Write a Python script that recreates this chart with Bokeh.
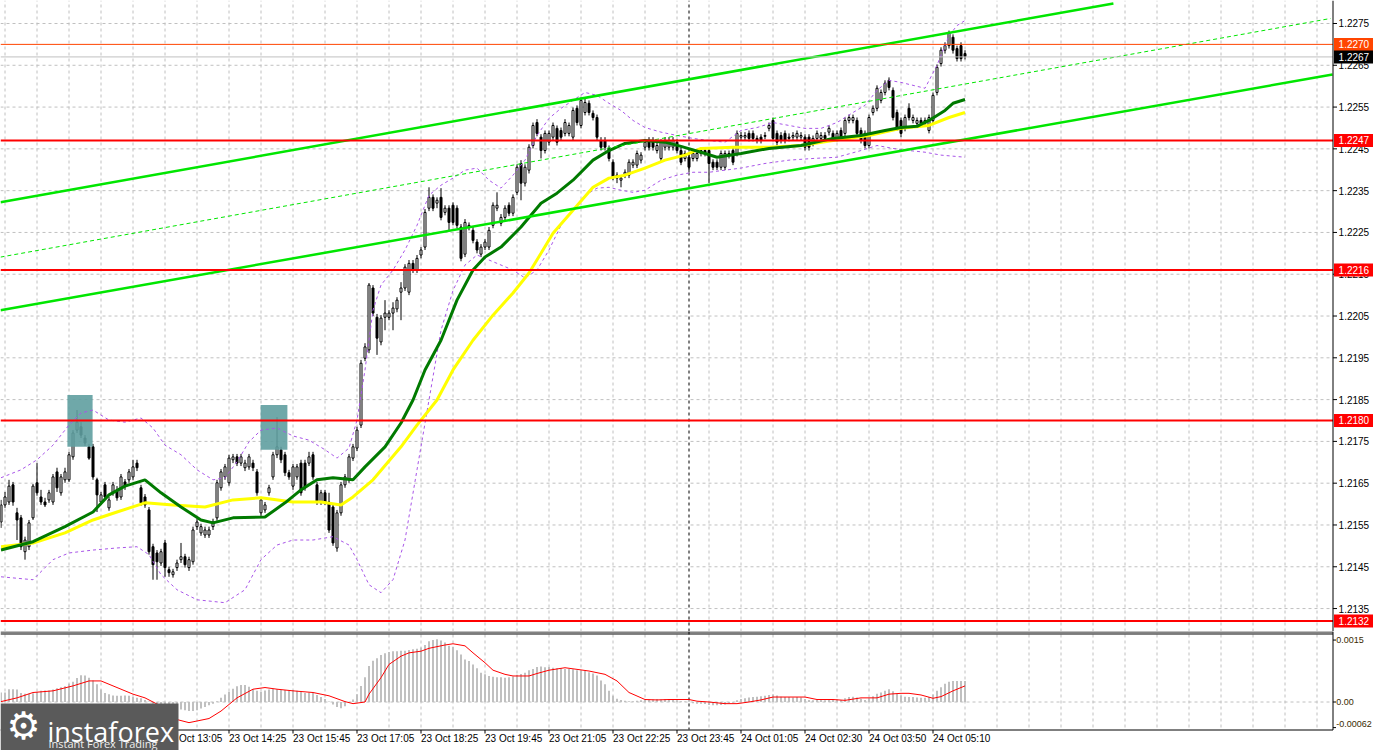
from bokeh.plotting import figure
from bokeh.layouts import column
from bokeh.models import ColumnDataSource, Range1d
from bokeh.core.properties import value
from bokeh.embed import file_html
from bokeh.resources import INLINE

# ---------------------------------------------------------------- data
BARS = list(range(-1, 241))   # M5 bar index, 23 Oct 09:35 .. 24 Oct 05:50

OPEN = [
    1.21557, 1.21598, 1.21605, 1.21646, 1.21579, 1.21567, 1.21486, 1.21498, 1.21567, 1.21651,
    1.21617, 1.21605, 1.21610, 1.21605, 1.21677, 1.21627, 1.21658, 1.21658, 1.21713, 1.21777,
    1.21785, 1.21758, 1.21737, 1.21737, 1.21658, 1.21605, 1.21646, 1.21591, 1.21627, 1.21634,
    1.21617, 1.21653, 1.21658, 1.21665, 1.21698, 1.21639, 1.21617, 1.21586, 1.21498, 1.21483,
    1.21459, 1.21507, 1.21443, 1.21431, 1.21448, 1.21467, 1.21474, 1.21448, 1.21462, 1.21546,
    1.21531, 1.21526, 1.21526, 1.21546, 1.21567, 1.21639, 1.21665, 1.21651, 1.21706, 1.21713,
    1.21698, 1.21687, 1.21689, 1.21698, 1.21677, 1.21579, 1.21586, 1.21627, 1.21665, 1.21718,
    1.21730, 1.21718, 1.21675, 1.21643, 1.21665, 1.21698, 1.21698, 1.21698, 1.21718, 1.21646,
    1.21605, 1.21627, 1.21605, 1.21593, 1.21495, 1.21579, 1.21646, 1.21658, 1.21710, 1.21734,
    1.21789, 1.21949, 1.21969, 1.22117, 1.22047, 1.21988, 1.22047, 1.22047, 1.22057, 1.22067,
    1.22107, 1.22117, 1.22107, 1.22176, 1.22160, 1.22196, 1.22215, 1.22308, 1.22334, 1.22320,
    1.22334, 1.22298, 1.22308, 1.22315, 1.22308, 1.22263, 1.22198, 1.22267, 1.22255, 1.22227,
    1.22198, 1.22215, 1.22215, 1.22267, 1.22308, 1.22272, 1.22286, 1.22315, 1.22296, 1.22346,
    1.22415, 1.22368, 1.22399, 1.22458, 1.22513, 1.22478, 1.22446, 1.22466, 1.22478, 1.22499,
    1.22494, 1.22487, 1.22487, 1.22478, 1.22547, 1.22506, 1.22537, 1.22559, 1.22535, 1.22525,
    1.22470, 1.22470, 1.22451, 1.22418, 1.22387, 1.22375, 1.22387, 1.22387, 1.22411, 1.22411,
    1.22423, 1.22454, 1.22470, 1.22470, 1.22446, 1.22427, 1.22454, 1.22454, 1.22454, 1.22466,
    1.22446, 1.22427, 1.22430, 1.22427, 1.22427, 1.22439, 1.22446, 1.22446, 1.22418, 1.22418,
    1.22406, 1.22406, 1.22435, 1.22446, 1.22439, 1.22478, 1.22478, 1.22487, 1.22487, 1.22475,
    1.22478, 1.22482, 1.22499, 1.22518, 1.22487, 1.22482, 1.22487, 1.22478, 1.22478, 1.22478,
    1.22478, 1.22478, 1.22478, 1.22463, 1.22475, 1.22475, 1.22482, 1.22490, 1.22487, 1.22475,
    1.22494, 1.22487, 1.22518, 1.22518, 1.22518, 1.22494, 1.22487, 1.22458, 1.22537, 1.22547,
    1.22566, 1.22585, 1.22614, 1.22590, 1.22537, 1.22518, 1.22499, 1.22547, 1.22518, 1.22511,
    1.22518, 1.22511, 1.22494, 1.22518, 1.22585, 1.22654, 1.22686, 1.22697, 1.22717, 1.22690,
    1.22697, 1.22678]

HIGH = [
    1.21610, 1.21629, 1.21658, 1.21653, 1.21591, 1.21574, 1.21522, 1.21562, 1.21648, 1.21698,
    1.21634, 1.21615, 1.21634, 1.21672, 1.21687, 1.21672, 1.21687, 1.21725, 1.21777, 1.21825,
    1.21796, 1.21765, 1.21744, 1.21744, 1.21663, 1.21629, 1.21653, 1.21617, 1.21653, 1.21643,
    1.21672, 1.21660, 1.21684, 1.21706, 1.21706, 1.21646, 1.21624, 1.21593, 1.21505, 1.21490,
    1.21493, 1.21514, 1.21450, 1.21445, 1.21467, 1.21507, 1.21481, 1.21474, 1.21546, 1.21565,
    1.21553, 1.21546, 1.21546, 1.21565, 1.21658, 1.21684, 1.21696, 1.21718, 1.21720, 1.21720,
    1.21720, 1.21706, 1.21720, 1.21706, 1.21684, 1.21617, 1.21605, 1.21646, 1.21725, 1.21808,
    1.21737, 1.21725, 1.21682, 1.21696, 1.21696, 1.21706, 1.21706, 1.21725, 1.21725, 1.21653,
    1.21634, 1.21634, 1.21627, 1.21600, 1.21586, 1.21653, 1.21672, 1.21720, 1.21744, 1.21785,
    1.21945, 1.21985, 1.22129, 1.22124, 1.22055, 1.22052, 1.22088, 1.22064, 1.22083, 1.22095,
    1.22131, 1.22174, 1.22184, 1.22184, 1.22196, 1.22215, 1.22306, 1.22358, 1.22341, 1.22334,
    1.22356, 1.22315, 1.22315, 1.22322, 1.22315, 1.22270, 1.22282, 1.22274, 1.22263, 1.22234,
    1.22222, 1.22234, 1.22263, 1.22322, 1.22346, 1.22294, 1.22315, 1.22322, 1.22341, 1.22413,
    1.22423, 1.22413, 1.22461, 1.22513, 1.22521, 1.22485, 1.22494, 1.22494, 1.22513, 1.22506,
    1.22501, 1.22521, 1.22513, 1.22549, 1.22554, 1.22573, 1.22571, 1.22566, 1.22542, 1.22532,
    1.22478, 1.22478, 1.22458, 1.22425, 1.22394, 1.22387, 1.22401, 1.22425, 1.22425, 1.22446,
    1.22442, 1.22473, 1.22478, 1.22478, 1.22466, 1.22473, 1.22478, 1.22478, 1.22478, 1.22473,
    1.22454, 1.22446, 1.22437, 1.22446, 1.22446, 1.22454, 1.22454, 1.22454, 1.22425, 1.22425,
    1.22446, 1.22446, 1.22446, 1.22454, 1.22494, 1.22490, 1.22490, 1.22494, 1.22494, 1.22482,
    1.22485, 1.22490, 1.22513, 1.22525, 1.22494, 1.22490, 1.22494, 1.22487, 1.22490, 1.22494,
    1.22490, 1.22485, 1.22485, 1.22482, 1.22494, 1.22490, 1.22490, 1.22506, 1.22494, 1.22494,
    1.22501, 1.22525, 1.22532, 1.22532, 1.22525, 1.22501, 1.22494, 1.22532, 1.22554, 1.22602,
    1.22592, 1.22614, 1.22621, 1.22597, 1.22544, 1.22525, 1.22532, 1.22559, 1.22532, 1.22525,
    1.22525, 1.22525, 1.22532, 1.22585, 1.22652, 1.22693, 1.22705, 1.22733, 1.22724, 1.22697,
    1.22705, 1.22686]

LOW = [
    1.21543, 1.21591, 1.21598, 1.21596, 1.21514, 1.21490, 1.21467, 1.21490, 1.21562, 1.21620,
    1.21598, 1.21593, 1.21603, 1.21598, 1.21629, 1.21620, 1.21651, 1.21653, 1.21706, 1.21770,
    1.21758, 1.21739, 1.21706, 1.21658, 1.21581, 1.21598, 1.21610, 1.21584, 1.21620, 1.21608,
    1.21610, 1.21634, 1.21651, 1.21658, 1.21679, 1.21596, 1.21591, 1.21479, 1.21419, 1.21419,
    1.21452, 1.21426, 1.21426, 1.21424, 1.21440, 1.21459, 1.21448, 1.21440, 1.21455, 1.21538,
    1.21524, 1.21519, 1.21519, 1.21538, 1.21560, 1.21632, 1.21658, 1.21644, 1.21698, 1.21691,
    1.21691, 1.21679, 1.21682, 1.21679, 1.21620, 1.21572, 1.21579, 1.21620, 1.21658, 1.21710,
    1.21698, 1.21667, 1.21658, 1.21634, 1.21658, 1.21620, 1.21632, 1.21691, 1.21658, 1.21598,
    1.21598, 1.21598, 1.21531, 1.21500, 1.21486, 1.21572, 1.21639, 1.21651, 1.21703, 1.21727,
    1.21782, 1.21942, 1.21961, 1.22050, 1.21957, 1.21980, 1.22016, 1.22040, 1.22016, 1.22059,
    1.22040, 1.22110, 1.22100, 1.22153, 1.22153, 1.22188, 1.22208, 1.22301, 1.22301, 1.22308,
    1.22279, 1.22291, 1.22255, 1.22267, 1.22260, 1.22181, 1.22191, 1.22255, 1.22224, 1.22200,
    1.22191, 1.22208, 1.22208, 1.22260, 1.22301, 1.22265, 1.22279, 1.22289, 1.22289, 1.22339,
    1.22327, 1.22360, 1.22391, 1.22451, 1.22480, 1.22427, 1.22439, 1.22458, 1.22470, 1.22458,
    1.22470, 1.22480, 1.22480, 1.22470, 1.22506, 1.22499, 1.22530, 1.22530, 1.22518, 1.22470,
    1.22446, 1.22446, 1.22420, 1.22375, 1.22368, 1.22358, 1.22380, 1.22380, 1.22404, 1.22404,
    1.22415, 1.22446, 1.22446, 1.22446, 1.22439, 1.22420, 1.22446, 1.22446, 1.22446, 1.22439,
    1.22411, 1.22420, 1.22394, 1.22420, 1.22420, 1.22432, 1.22432, 1.22368, 1.22399, 1.22399,
    1.22399, 1.22399, 1.22427, 1.22411, 1.22432, 1.22470, 1.22470, 1.22468, 1.22468, 1.22463,
    1.22463, 1.22473, 1.22492, 1.22468, 1.22458, 1.22463, 1.22463, 1.22468, 1.22470, 1.22470,
    1.22470, 1.22446, 1.22446, 1.22456, 1.22468, 1.22468, 1.22468, 1.22482, 1.22468, 1.22468,
    1.22470, 1.22480, 1.22511, 1.22511, 1.22480, 1.22463, 1.22451, 1.22451, 1.22530, 1.22540,
    1.22559, 1.22578, 1.22590, 1.22518, 1.22494, 1.22478, 1.22492, 1.22518, 1.22511, 1.22504,
    1.22504, 1.22504, 1.22487, 1.22511, 1.22578, 1.22647, 1.22678, 1.22690, 1.22678, 1.22659,
    1.22659, 1.22664]

CLOSE = [
    1.21598, 1.21617, 1.21643, 1.21605, 1.21562, 1.21498, 1.21514, 1.21555, 1.21643, 1.21627,
    1.21605, 1.21598, 1.21627, 1.21665, 1.21639, 1.21665, 1.21677, 1.21718, 1.21770, 1.21796,
    1.21765, 1.21746, 1.21710, 1.21665, 1.21622, 1.21622, 1.21617, 1.21610, 1.21646, 1.21615,
    1.21665, 1.21643, 1.21677, 1.21689, 1.21687, 1.21603, 1.21598, 1.21486, 1.21455, 1.21462,
    1.21486, 1.21448, 1.21436, 1.21438, 1.21459, 1.21474, 1.21455, 1.21467, 1.21538, 1.21557,
    1.21546, 1.21538, 1.21538, 1.21557, 1.21651, 1.21677, 1.21689, 1.21710, 1.21713, 1.21698,
    1.21713, 1.21698, 1.21713, 1.21687, 1.21627, 1.21610, 1.21598, 1.21639, 1.21718, 1.21737,
    1.21706, 1.21675, 1.21665, 1.21689, 1.21689, 1.21627, 1.21639, 1.21713, 1.21665, 1.21605,
    1.21627, 1.21605, 1.21538, 1.21507, 1.21579, 1.21646, 1.21665, 1.21713, 1.21737, 1.21777,
    1.21937, 1.21976, 1.22124, 1.22057, 1.21997, 1.22045, 1.22057, 1.22057, 1.22069, 1.22088,
    1.22117, 1.22167, 1.22176, 1.22160, 1.22188, 1.22208, 1.22298, 1.22334, 1.22308, 1.22327,
    1.22286, 1.22308, 1.22274, 1.22274, 1.22267, 1.22188, 1.22274, 1.22263, 1.22231, 1.22208,
    1.22215, 1.22227, 1.22255, 1.22315, 1.22315, 1.22286, 1.22308, 1.22296, 1.22334, 1.22406,
    1.22368, 1.22406, 1.22454, 1.22506, 1.22487, 1.22446, 1.22487, 1.22487, 1.22506, 1.22466,
    1.22478, 1.22513, 1.22506, 1.22542, 1.22513, 1.22566, 1.22561, 1.22537, 1.22525, 1.22478,
    1.22454, 1.22454, 1.22427, 1.22382, 1.22380, 1.22380, 1.22394, 1.22418, 1.22418, 1.22439,
    1.22435, 1.22466, 1.22454, 1.22454, 1.22458, 1.22466, 1.22470, 1.22470, 1.22470, 1.22446,
    1.22418, 1.22439, 1.22406, 1.22439, 1.22439, 1.22446, 1.22439, 1.22415, 1.22406, 1.22406,
    1.22439, 1.22439, 1.22439, 1.22418, 1.22487, 1.22482, 1.22482, 1.22475, 1.22475, 1.22470,
    1.22470, 1.22480, 1.22506, 1.22475, 1.22466, 1.22470, 1.22470, 1.22475, 1.22482, 1.22487,
    1.22482, 1.22454, 1.22454, 1.22475, 1.22487, 1.22482, 1.22475, 1.22499, 1.22475, 1.22487,
    1.22478, 1.22518, 1.22525, 1.22525, 1.22487, 1.22470, 1.22458, 1.22525, 1.22547, 1.22595,
    1.22585, 1.22607, 1.22597, 1.22525, 1.22501, 1.22487, 1.22525, 1.22525, 1.22525, 1.22518,
    1.22511, 1.22518, 1.22525, 1.22578, 1.22645, 1.22686, 1.22697, 1.22726, 1.22686, 1.22666,
    1.22666, 1.22671]

# moving averages (read at sample bars)
MA_FAST_X = [-1, 7, 15, 22, 26, 30, 35, 39, 44, 49, 52, 57, 65, 70, 74, 78, 82, 87, 90, 95,
             99, 102, 105, 109, 113, 117, 120, 124, 129, 134, 138, 142, 147, 151, 155, 160, 165,
             169, 174, 178, 184, 191, 199, 207, 214, 220, 224, 228, 231, 235, 237, 240]
MA_FAST_Y = [1.21490, 1.21510, 1.21546, 1.21581, 1.21622, 1.21643, 1.21658, 1.21627, 1.21593,
             1.21562, 1.21555, 1.21567, 1.21569, 1.21603, 1.21634, 1.21658, 1.21663, 1.21658,
             1.21689, 1.21737, 1.21794, 1.21849, 1.21921, 1.21992, 1.22088, 1.22160, 1.22191,
             1.22215, 1.22263, 1.22320, 1.22344, 1.22375, 1.22423, 1.22446, 1.22463, 1.22470,
             1.22466, 1.22456, 1.22442, 1.22430, 1.22439, 1.22451, 1.22458, 1.22475, 1.22482,
             1.22494, 1.22501, 1.22504, 1.22518, 1.22542, 1.22559, 1.22568]
MA_SLOW_X = [-1, 7, 15, 22, 28, 35, 42, 50, 57, 64, 72, 79, 84, 87, 92, 99, 103, 108, 112, 117,
             122, 127, 131, 134, 137, 142, 147, 151, 155, 160, 165, 170, 174, 182, 191, 199, 207,
             216, 224, 231, 236, 240]
MA_SLOW_Y = [1.21498, 1.21507, 1.21531, 1.21562, 1.21581, 1.21603, 1.21598, 1.21593, 1.21610,
             1.21615, 1.21605, 1.21605, 1.21598, 1.21617, 1.21658, 1.21737, 1.21789, 1.21849,
             1.21921, 1.21992, 1.22052, 1.22105, 1.22153, 1.22200, 1.22248, 1.22303, 1.22358,
             1.22380, 1.22387, 1.22404, 1.22423, 1.22435, 1.22451, 1.22454, 1.22454, 1.22458,
             1.22470, 1.22482, 1.22499, 1.22506, 1.22525, 1.22537]

# Bollinger envelope (read at sample bars)
BB_UP_X = [-1, 4, 8, 12, 16, 19, 22, 26, 30, 34, 37, 40, 44, 48, 52, 55, 58, 61, 64, 68, 72, 76,
           80, 83, 86, 88, 90, 92, 94, 97, 100, 103, 106, 109, 112, 115, 118, 121, 124, 127, 130,
           133, 136, 139, 142, 145, 148, 151, 154, 157, 160, 164, 168, 172, 176, 180, 184, 188,
           192, 196, 200, 204, 208, 212, 215, 218, 221, 224, 227, 230, 233, 236, 238, 240]
BB_UP_Y = [1.21663, 1.21682, 1.21706, 1.21741, 1.21789, 1.21818, 1.21825, 1.21801, 1.21796,
           1.21806, 1.21782, 1.21741, 1.21718, 1.21682, 1.21658, 1.21663, 1.21701, 1.21749,
           1.21777, 1.21782, 1.21763, 1.21753, 1.21730, 1.21710, 1.21734, 1.21801, 1.21921,
           1.22064, 1.22124, 1.22160, 1.22208, 1.22267, 1.22339, 1.22363, 1.22380, 1.22399,
           1.22404, 1.22375, 1.22356, 1.22387, 1.22423, 1.22482, 1.22523, 1.22547, 1.22566,
           1.22585, 1.22578, 1.22559, 1.22542, 1.22518, 1.22501, 1.22490, 1.22482, 1.22475,
           1.22470, 1.22466, 1.22494, 1.22501, 1.22513, 1.22506, 1.22499, 1.22499, 1.22513,
           1.22537, 1.22554, 1.22590, 1.22614, 1.22609, 1.22602, 1.22595, 1.22650, 1.22721,
           1.22745, 1.22757]
BB_LO_X = [-1, 7, 12, 16, 22, 28, 33, 36, 39, 43, 48, 55, 60, 64, 68, 72, 77, 82, 86, 88, 91, 94,
           97, 100, 103, 106, 109, 112, 115, 118, 121, 124, 127, 130, 133, 136, 139, 142, 145,
           148, 151, 154, 157, 160, 164, 168, 172, 176, 180, 184, 190, 196, 202, 208, 214, 218,
           222, 226, 230, 234, 240]
BB_LO_Y = [1.21426, 1.21419, 1.21467, 1.21483, 1.21490, 1.21495, 1.21498, 1.21479, 1.21431,
           1.21395, 1.21371, 1.21364, 1.21395, 1.21467, 1.21502, 1.21514, 1.21514, 1.21522,
           1.21502, 1.21467, 1.21407, 1.21388, 1.21419, 1.21514, 1.21682, 1.21849, 1.22016,
           1.22111, 1.22172, 1.22196, 1.22184, 1.22172, 1.22160, 1.22141, 1.22160, 1.22208,
           1.22267, 1.22303, 1.22339, 1.22356, 1.22358, 1.22351, 1.22346, 1.22351, 1.22375,
           1.22387, 1.22394, 1.22394, 1.22399, 1.22404, 1.22415, 1.22423, 1.22427, 1.22430,
           1.22446, 1.22458, 1.22451, 1.22446, 1.22442, 1.22435, 1.22430]

# rising channel (bar, price) end points
CH_UP_X, CH_UP_Y = [-1.125, 277.1], [1.22322, 1.22798]
CH_LO_X, CH_LO_Y = [-1.125, 331.875], [1.22064, 1.22628]
CH_MID_X, CH_MID_Y = [-1.125, 331.4], [1.22191, 1.22762]

# signal zones (bar span, price span)
ZONE_LEFT = [15.6, 63.9]
ZONE_RIGHT = [21.9, 70.6]
ZONE_BOTTOM = [1.21737, 1.21730]
ZONE_TOP = [1.21861, 1.21837]

LEVELS = [1.2247, 1.2216, 1.2180, 1.2132]
ASK_LEVEL = 1.2270
BID_LEVEL = 1.2267
PRICE_TICKS = [1.2135, 1.2145, 1.2155, 1.2165, 1.2175, 1.2185, 1.2195, 1.2205, 1.2215,
               1.2225, 1.2235, 1.2245, 1.2255, 1.2265, 1.2275]
TIME_TICKS = [40, 56, 72, 88, 104, 120, 136, 152, 168, 184, 200, 216, 232]
TIME_LABELS = ["23 Oct 13:05", "23 Oct 14:25", "23 Oct 15:45", "23 Oct 17:05", "23 Oct 18:25",
               "23 Oct 19:45", "23 Oct 21:05", "23 Oct 22:25", "23 Oct 23:45", "24 Oct 01:05",
               "24 Oct 02:30", "24 Oct 03:50", "24 Oct 05:10"]
DAY_BREAK = 171

# oscillator (histogram per bar, signal line at sample bars)
MACD = [
    0.00023, 0.00023, 0.00031, 0.00031, 0.00030, 0.00022, 0.00020, 0.00020, 0.00021, 0.00024,
    0.00027, 0.00028, 0.00028, 0.00030, 0.00033, 0.00036, 0.00038, 0.00044, 0.00049, 0.00058,
    0.00065, 0.00064, 0.00059, 0.00052, 0.00043, 0.00030, 0.00022, 0.00019, 0.00016, 0.00015,
    0.00015, 0.00016, 0.00015, 0.00012, 0.00010, 0.00009, 0.00005, 0.00001, -0.00004, -0.00008,
    -0.00010, -0.00012, -0.00014, -0.00016, -0.00017, -0.00018, -0.00020, -0.00022, -0.00022, -0.00020,
    -0.00016, -0.00012, -0.00008, -0.00004, 0.00002, 0.00010, 0.00018, 0.00025, 0.00032, 0.00038,
    0.00041, 0.00041, 0.00037, 0.00031, 0.00027, 0.00025, 0.00028, 0.00030, 0.00032, 0.00031,
    0.00029, 0.00029, 0.00028, 0.00029, 0.00027, 0.00024, 0.00022, 0.00023, 0.00022, 0.00017,
    0.00012, 0.00007, 0.00001, -0.00006, -0.00012, -0.00015, -0.00010, -0.00002, 0.00006, 0.00019,
    0.00039, 0.00060, 0.00087, 0.00100, 0.00106, 0.00114, 0.00118, 0.00121, 0.00123, 0.00123,
    0.00124, 0.00124, 0.00126, 0.00128, 0.00129, 0.00132, 0.00138, 0.00147, 0.00150, 0.00152,
    0.00149, 0.00144, 0.00136, 0.00133, 0.00125, 0.00115, 0.00103, 0.00099, 0.00091, 0.00082,
    0.00071, 0.00067, 0.00063, 0.00061, 0.00060, 0.00060, 0.00059, 0.00060, 0.00062, 0.00066,
    0.00068, 0.00071, 0.00077, 0.00080, 0.00085, 0.00086, 0.00084, 0.00085, 0.00083, 0.00082,
    0.00082, 0.00080, 0.00080, 0.00079, 0.00077, 0.00077, 0.00075, 0.00072, 0.00069, 0.00064,
    0.00052, 0.00043, 0.00027, 0.00015, 0.00008, 0.00005, 0.00003, 0.00002, 0.00002, 0.00003,
    0.00004, 0.00005, 0.00006, 0.00006, 0.00007, 0.00006, 0.00007, 0.00007, 0.00006, 0.00004,
    0.00002, 0.00001, 0.00002, -0.00003, -0.00004, -0.00004, -0.00005, -0.00007, -0.00008, -0.00008,
    -0.00007, -0.00006, -0.00003, -0.00002, 0.00004, 0.00007, 0.00009, 0.00011, 0.00012, 0.00013,
    0.00014, 0.00015, 0.00017, 0.00018, 0.00016, 0.00013, 0.00012, 0.00012, 0.00011, 0.00012,
    0.00011, 0.00007, 0.00005, 0.00004, 0.00005, 0.00005, 0.00004, 0.00006, 0.00005, 0.00006,
    0.00005, 0.00009, 0.00012, 0.00013, 0.00011, 0.00008, 0.00005, 0.00009, 0.00014, 0.00020,
    0.00023, 0.00027, 0.00031, 0.00026, 0.00020, 0.00016, 0.00013, 0.00012, 0.00012, 0.00011,
    0.00010, 0.00010, 0.00012, 0.00018, 0.00027, 0.00036, 0.00044, 0.00049, 0.00051, 0.00051,
    0.00051, 0.00051]
SIG_X = [-1, 3, 7, 12, 17, 21, 24, 28, 32, 35, 39, 42, 46, 51, 54, 58, 62, 65, 68, 72, 77, 81, 85,
         87, 90, 91, 94, 96, 99, 101, 104, 106, 110, 112, 115, 117, 120, 122, 125, 127, 131, 133,
         136, 140, 143, 146, 150, 153, 156, 160, 163, 166, 171, 173, 176, 180, 183, 186, 189, 192,
         200, 203, 207, 210, 214, 218, 221, 224, 226, 229, 232, 234, 237, 240]
SIG_Y = [0.00001, 0.00010, 0.00023, 0.00027, 0.00039, 0.00051, 0.00051, 0.00035, 0.00019, 0.00010,
         -0.00010, -0.00040, -0.00050, -0.00040, -0.00022, 0.00010, 0.00031, 0.00035, 0.00031,
         0.00027, 0.00023, 0.00015, 0.00001, -0.00004, 0.00000, 0.00019, 0.00059, 0.00091,
         0.00111, 0.00119, 0.00123, 0.00130, 0.00138, 0.00141, 0.00136, 0.00119, 0.00095, 0.00077,
         0.00067, 0.00063, 0.00063, 0.00069, 0.00077, 0.00083, 0.00079, 0.00075, 0.00067, 0.00051,
         0.00023, 0.00006, 0.00005, 0.00006, 0.00006, 0.00002, 0.00000, -0.00004, -0.00004,
         0.00000, 0.00005, 0.00012, 0.00012, 0.00006, 0.00006, 0.00004, 0.00010, 0.00010, 0.00019,
         0.00021, 0.00021, 0.00017, 0.00009, 0.00013, 0.00027, 0.00039]
OSC_TICKS = [0.0015, 0.0, -0.00062]
OSC_TICK_LABELS = ["0.0015", "0.00", "-0.00062"]

# ---------------------------------------------------------------- layout (page pixels -> data)
W = 1373
H_PRICE = 631
H_OSC = 119
X_LEFT = -1.125                 # bar index at page x = 0 (4 px per bar)
X_RIGHT = X_LEFT + W / 4.0
AXIS_X = 332.0                  # right scale line (page x 1332.5)
PRICE_TOP = 1.228050            # page y 0
PRICE_BOT = 1.212951            # page y 631
OSC_TOP = 0.0017070             # page y 631
OSC_BOT = -0.0011743            # page y 750
FONT = "Liberation Sans"
GRID = "#C0C0C0"


def bx(page_x):
    return X_LEFT + page_x / 4.0


def oy(page_y):
    return (701.5 - page_y) / 41300.0


def bare(p):
    p.xgrid.visible = False
    p.ygrid.visible = False
    p.outline_line_color = None


common = dict(output_backend="svg", toolbar_location=None, tools="",
              x_axis_location=None, y_axis_location=None,
              background_fill_color="white", border_fill_color="white",
              min_border_left=0, min_border_right=0, min_border_top=0, min_border_bottom=0)

# ---------------------------------------------------------------- price panel
pA = figure(width=W, height=H_PRICE, x_range=Range1d(X_LEFT, X_RIGHT),
            y_range=Range1d(PRICE_BOT, PRICE_TOP), **common)
bare(pA)

grid_bars = list(range(0, 336, 8))
n = len(grid_bars)
pA.segment(x0=grid_bars, y0=[PRICE_BOT] * n, x1=grid_bars, y1=[PRICE_TOP] * n,
           line_color=GRID, line_width=1, line_dash="3 3")
m = len(PRICE_TICKS)
pA.segment(x0=[X_LEFT] * m, y0=PRICE_TICKS, x1=[AXIS_X] * m, y1=PRICE_TICKS,
           line_color=GRID, line_width=1, line_dash="3 3")
pA.segment(x0=[DAY_BREAK], y0=[PRICE_BOT], x1=[DAY_BREAK], y1=[PRICE_TOP],
           line_color="black", line_width=1, line_dash="3 3")

body_top = [max(o, c) for o, c in zip(OPEN, CLOSE)]
body_bot = [min(o, c) for o, c in zip(OPEN, CLOSE)]
body_fill = ["white" if c >= o else "black" for o, c in zip(OPEN, CLOSE)]
src = ColumnDataSource(dict(x=BARS, h=HIGH, l=LOW, top=body_top, bot=body_bot, fill=body_fill))
pA.segment(x0="x", y0="h", x1="x", y1="l", source=src, line_color="black", line_width=1)
pA.vbar(x="x", width=0.5, top="top", bottom="bot", source=src,
        fill_color="fill", line_color="black", line_width=1)

pA.quad(left=ZONE_LEFT, right=ZONE_RIGHT, bottom=ZONE_BOTTOM, top=ZONE_TOP,
        fill_color="#5F9EA0", fill_alpha=0.9, line_color=None)

BB_COLOR = "#A855E8"
pA.line(BB_UP_X, BB_UP_Y, line_color=BB_COLOR, line_width=1, line_dash="3 3")
pA.line(BB_LO_X, BB_LO_Y, line_color=BB_COLOR, line_width=1, line_dash="3 3")
pA.line(MA_SLOW_X, MA_SLOW_Y, line_color="#FFFF00", line_width=3)
pA.line(MA_FAST_X, MA_FAST_Y, line_color="#007A00", line_width=3)

CH_COLOR = "#00E600"
pA.line(CH_UP_X, CH_UP_Y, line_color=CH_COLOR, line_width=2.5)
pA.line(CH_LO_X, CH_LO_Y, line_color=CH_COLOR, line_width=2.5)
pA.line(CH_MID_X, CH_MID_Y, line_color=CH_COLOR, line_width=1, line_dash="4 3")

pA.segment(x0=[X_LEFT], y0=[ASK_LEVEL], x1=[AXIS_X], y1=[ASK_LEVEL],
           line_color="#FF4500", line_width=1)
pA.segment(x0=[X_LEFT], y0=[BID_LEVEL], x1=[AXIS_X], y1=[BID_LEVEL],
           line_color="#C0C0C0", line_width=1)
k = len(LEVELS)
pA.segment(x0=[X_LEFT] * k, y0=LEVELS, x1=[AXIS_X] * k, y1=LEVELS,
           line_color="#FF0000", line_width=2)

# right price scale
pA.segment(x0=[AXIS_X], y0=[PRICE_BOT], x1=[AXIS_X], y1=[PRICE_TOP],
           line_color="black", line_width=1)
pA.segment(x0=[AXIS_X] * m, y0=PRICE_TICKS, x1=[AXIS_X + 1.0] * m, y1=PRICE_TICKS,
           line_color="black", line_width=1)
pA.text(x=[AXIS_X + 1.4] * m, y=PRICE_TICKS, text=[f"{t:.4f}" for t in PRICE_TICKS],
        text_font=value(FONT), text_font_size="10px", text_color="black",
        text_align="left", text_baseline="middle")

tag_vals = [ASK_LEVEL, BID_LEVEL] + LEVELS
tag_cols = ["#FF4500", "#000000"] + ["#FF0000"] * k
t = len(tag_vals)
pA.rect(x=[AXIS_X + 5.35] * t, y=tag_vals, width=10.2, height=13, height_units="screen",
        fill_color=tag_cols, line_color=None)
pA.text(x=[AXIS_X + 1.4] * t, y=tag_vals, text=[f"{v:.4f}" for v in tag_vals],
        text_font=value(FONT), text_font_size="10px", text_color="white",
        text_align="left", text_baseline="middle")

# ---------------------------------------------------------------- oscillator panel + time scale
pB = figure(width=W, height=H_OSC, x_range=pA.x_range, y_range=Range1d(OSC_BOT, OSC_TOP),
            **common)
bare(pB)

pB.segment(x0=grid_bars, y0=[oy(634)] * n, x1=grid_bars, y1=[oy(729)] * n,
           line_color=GRID, line_width=1, line_dash="3 3")
pB.segment(x0=[X_LEFT], y0=[0.0], x1=[AXIS_X], y1=[0.0],
           line_color=GRID, line_width=1, line_dash="3 3")
pB.segment(x0=[DAY_BREAK], y0=[oy(631)], x1=[DAY_BREAK], y1=[oy(729)],
           line_color="black", line_width=1, line_dash="3 3")

pB.vbar(x=BARS, top=MACD, bottom=0, width=0.5, fill_color="#C0C0C0", line_color=None)
pB.line(SIG_X, SIG_Y, line_color="#FF0000", line_width=1)

# panel borders
pB.segment(x0=[X_LEFT] * 3, y0=[oy(631.5), oy(633.5), oy(729.5)],
           x1=[AXIS_X] * 3, y1=[oy(631.5), oy(633.5), oy(729.5)],
           line_color="black", line_width=1)
pB.segment(x0=[AXIS_X], y0=[oy(631)], x1=[AXIS_X], y1=[oy(729.5)],
           line_color="black", line_width=1)

# oscillator scale
q = len(OSC_TICKS)
pB.segment(x0=[AXIS_X] * q, y0=OSC_TICKS, x1=[AXIS_X + 0.75] * q, y1=OSC_TICKS,
           line_color="black", line_width=1)
pB.text(x=[AXIS_X + 0.8] * q, y=OSC_TICKS, text=OSC_TICK_LABELS, y_offset=[0, 0, -4],
        text_font=value(FONT), text_font_size="9px", text_color="#3a2a00",
        text_align="left", text_baseline="middle")

# time scale
r = len(TIME_TICKS)
pB.segment(x0=TIME_TICKS, y0=[oy(729.5)] * r, x1=TIME_TICKS, y1=[oy(733)] * r,
           line_color="black", line_width=1)
pB.text(x=TIME_TICKS, y=[oy(738)] * r, text=TIME_LABELS,
        text_font=value(FONT), text_font_size="10px", text_color="black",
        text_align="left", text_baseline="middle")

# logo
pB.quad(left=[X_LEFT], right=[bx(178)], top=[oy(703)], bottom=[OSC_BOT],
        fill_color="#5A5A5A", line_color=None)
pB.text(x=[bx(23)], y=[oy(725)], text=["\u2699"], text_font=value("DejaVu Sans"),
        text_font_size="38px", text_color="white", text_align="center", text_baseline="middle")
pB.text(x=[bx(47)], y=[oy(731)], text=["instaforex"], text_font=value("Open Sans"),
        text_font_size="27px", text_color="white", text_align="left",
        text_baseline="alphabetic")
pB.text(x=[bx(48)], y=[oy(743)], text=["Instant Forex Trading"], text_font=value("Open Sans"),
        text_font_size="11px", text_color="#EEEEEE", text_align="left",
        text_baseline="alphabetic")

layout = column(pA, pB, spacing=0)
open("out.html", "w").write(file_html(layout, INLINE))
